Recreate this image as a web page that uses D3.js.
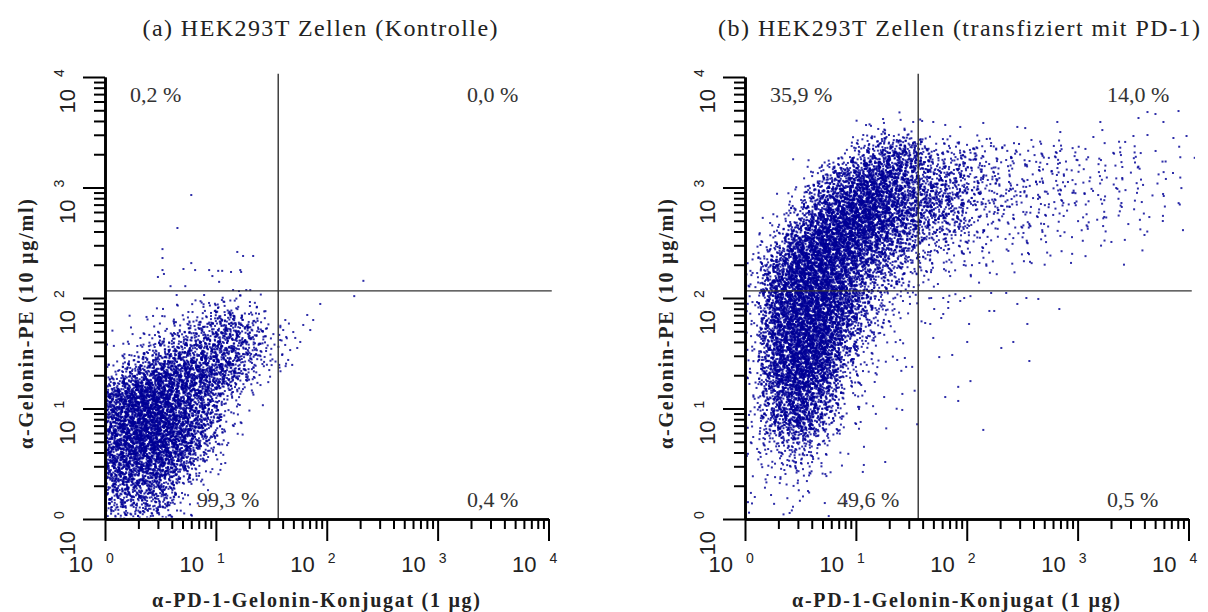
<!DOCTYPE html>
<html><head><meta charset="utf-8">
<script src="https://cdn.jsdelivr.net/npm/d3@7"></script>
<style>html,body{margin:0;padding:0;background:#fff;} svg{display:block;}</style>
</head><body>
<svg id="chart" width="1208" height="612"></svg>
<script>
// ================= DATA =================
const panelTitles = ["(a) HEK293T Zellen  (Kontrolle)", "(b) HEK293T Zellen  (transfiziert mit PD-1)"];
const xAxisTitle = "α-PD-1-Gelonin-Konjugat  (1 µg)";
const yAxisTitle = "α-Gelonin-PE  (10 µg/ml)";
const decadeExponents = [0, 1, 2, 3, 4];
const gateX = 36.5;          // vertical quadrant gate (x value)
const gateY = 116;           // horizontal quadrant gate (y value)
const gateEnd = 10700;       // gate lines run slightly past 10^4
// quadrant percentages: upper-left, upper-right, lower-left, lower-right
const quadrantPercentA = ["0,2 %", "0,0 %", "99,3 %", "0,4 %"];
const quadrantPercentB = ["35,9 %", "14,0 %", "49,6 %", "0,5 %"];

// event density: 20x20 cells of 0.2 decade each,
// rows from top (10^3.8..10^4) to bottom (10^0..10^0.2), columns 10^0 .. 10^4
const densityA = [
  "00000000000000000000",
  "00000000000000000000",
  "00000000000000000000",
  "00000000000000000000",
  "00000000000000000000",
  "00000000000000000000",
  "00000000000000000000",
  "00000000000000000000",
  "00000000000000000000",
  "00000000000000000000",
  "01234541000000000000",
  "12456764000000000000",
  "34677764000000000000",
  "57888752000000000000",
  "89987520000000000000",
  "89987410000000000000",
  "89986300000000000000",
  "88874100000000000000",
  "77742000000000000000",
  "66631000000000000000"
];
const densityB = [
  "00000000000000000000",
  "00000000000000000000",
  "00000343000000000000",
  "00003677555444333322",
  "00257887665444433332",
  "01478987765544433322",
  "03689987664443332221",
  "25899876544333222210",
  "47998765433222111000",
  "48998654211000000000",
  "48998642000000000000",
  "48997531000000000000",
  "48996421000000000000",
  "48985321000000000000",
  "47874211000000000000",
  "47863210000000000000",
  "45642100000000000000",
  "34532100000000000000",
  "23321000000000000000",
  "22210000000000000000"
];
// events per cell for each density level 0..9
const dotsPerLevel = [0, 1, 3, 8, 16, 35, 75, 140, 230, 340];

// isolated events: [x, y]
const sparseEventsA = [
  [6.0,855],[4.5,430],[3.3,277],[3.3,230],[3.3,179],[3.4,165],[3.0,155],[6.0,207],[5.1,183],
  [6.5,179],[3.9,128],[8.7,179],[10.5,176],[15.6,261],[17.6,240],[21.7,240],[16.6,179],[16.9,172],
  [10.7,140],[9.3,158],[11.4,176],[14.3,118],[5.3,128],[18.8,118],[13.7,172],
  [38.0,41.7],[42.2,37.6],[46.8,33.8],[52.0,43.5],[57.7,40.0],[39.6,30.5],[44.9,27.5],[49.9,49.2],
  [43.1,44.4],[54.2,35.3],[40.5,51.3],[71.0,51.3],[75.5,63.2],[87.4,88.3],[66.7,70.2],[61.4,57.0],
  [177,104],[214,143],[37.3,24.8],[48.8,24.8]
];
const sparseEventsB = [
  [64.0,12.7],[83.8,15.7],[83.8,11.7],[108,17.7],[141,6.4],[35.7,7.2],[74.0,30.5],[56.5,29.2],
  [101,40.0],[205,35.3],[263,40.0],[367,26.9],[352,58.2],[105,58.2],[49.9,43.5],[46.9,58.2],
  [42.2,59.4],[58.9,65.9],[61.4,71.6],[68.1,81.2],[50.9,79.5],[160,76.3],[177,76.3],[684,79.5],
  [286,88.3],[68.1,92.0],[87.4,94.0],[94.9,100],[108,104],[166,111],[227,111],[345,100],[442,98],
  [47.8,100],[61.4,100],
  [18.4,3.28],[26.2,9.7],[14.3,10.5],[18.0,12.7],[32.2,23.8],[28.4,23.8],[23.6,27.5],[25.1,41.7],
  [8128,4920],[5035,4624],[4266,4819],[3540,4254],[17.6,4169],[32.9,3917],[39.6,4000],[49.9,3917],
  [64.0,3681],[87.4,3532],[141,3837],[286,3532],[337,3451],[656,3917],[1603,3917],[5943,3917],
  [7311,2805],[9600,2924],[698,3177],[1671,3311],[1387,2864],[3187,2924],[4266,2985]
];

// ================= DRAWING =================
const svg = d3.select("#chart");
const serif = "'Liberation Serif','Times New Roman',serif";
const sans = "'Liberation Sans',Arial,sans-serif";

// fixed low-discrepancy layout used to place each cell's event count around the cell
function vdc(index, base) { let f = 1, r = 0, i = index; while (i > 0) { f /= base; r += f * (i % base); i = Math.floor(i / base); } return r; }

function cellEvents(grid, seed) {
  const out = [];
  const nRows = grid.length;
  grid.forEach((row, r) => {
    const j = nRows - 1 - r;
    row.split("").forEach((ch, i) => {
      const n = dotsPerLevel[+ch];
      const start = ((i * 31 + j * 17 + seed) * 53) % 4000;
      for (let k = 0; k < n; k++) {
        const idx = start + k + 1;
        // tent-shaped spread (one cell either side) so neighbouring cells blend smoothly
        const du = vdc(idx, 2) + vdc(idx, 5) - 1;
        const dv = vdc(idx, 3) + vdc(idx, 7) - 1;
        const u = (i + 0.5 + du) * 0.2;
        const v = (j + 0.5 + dv) * 0.2;
        out.push([Math.pow(10, u), Math.pow(10, v)]);
      }
    });
  });
  return out;
}

const panels = [
  { off: 0, title: panelTitles[0], titleW: 355, titleCx: 320, grid: densityA, sparse: sparseEventsA, pct: quadrantPercentA, seed: 3 },
  { off: 640, title: panelTitles[1], titleW: 482, titleCx: 319, grid: densityB, sparse: sparseEventsB, pct: quadrantPercentB, seed: 11 }
];

const minors = [];
for (let e = 0; e < 4; e++) for (let m = 2; m <= 9; m++) minors.push(m * Math.pow(10, e));
const majors = decadeExponents.map(e => Math.pow(10, e));

panels.forEach((p, pi) => {
  const g = svg.append("g").attr("transform", `translate(${p.off},0)`);
  const x = d3.scaleLog().domain([1, 1e4]).range([105, 548.5]);
  const y = d3.scaleLog().domain([1, 1e4]).range([519, 77]);

  // clip for events
  const clipId = "clip" + pi;
  g.append("clipPath").attr("id", clipId).append("rect")
    .attr("x", x(1) + 1.5).attr("y", y(1e4) - 6).attr("width", x(1e4) - x(1) + 5).attr("height", y(1) - y(1e4) + 4.5);

  const events = cellEvents(p.grid, p.seed).concat(p.sparse);
  g.append("g").attr("clip-path", `url(#${clipId})`)
    .selectAll("rect").data(events).join("rect")
    .attr("x", d => x(d[0]) - 1).attr("y", d => y(d[1]) - 1)
    .attr("width", 2).attr("height", 2)
    .attr("fill", "#000096").attr("fill-opacity", 0.82);

  // quadrant gates
  g.append("line").attr("x1", x(gateX)).attr("x2", x(gateX)).attr("y1", y(gateEnd)).attr("y2", y(1))
    .attr("stroke", "#333").attr("stroke-width", 1.4);
  g.append("line").attr("x1", x(1)).attr("x2", x(gateEnd)).attr("y1", y(gateY)).attr("y2", y(gateY))
    .attr("stroke", "#333").attr("stroke-width", 1.4);

  // axes
  const styleAxis = (sel, domainW) => {
    sel.selectAll("text").remove();
    sel.select(".domain").attr("stroke", "#000").attr("stroke-width", domainW);
    sel.selectAll(".tick line").attr("stroke", "#000").attr("stroke-width", 2);
  };
  g.append("g").attr("transform", `translate(0,${y(1)})`)
    .call(d3.axisBottom(x).tickValues(minors).tickSize(10).tickSizeOuter(0).tickFormat(""))
    .call(s => styleAxis(s, 2.6));
  g.append("g").attr("transform", `translate(0,${y(1)})`)
    .call(d3.axisBottom(x).tickValues(majors).tickSize(22).tickSizeOuter(0).tickFormat(""))
    .call(s => styleAxis(s, 2.6));
  g.append("g").attr("transform", `translate(${x(1)},0)`)
    .call(d3.axisLeft(y).tickValues(minors).tickSize(11).tickSizeOuter(0).tickFormat(""))
    .call(s => styleAxis(s, 2.6));
  g.append("g").attr("transform", `translate(${x(1)},0)`)
    .call(d3.axisLeft(y).tickValues(majors).tickSize(22).tickSizeOuter(0).tickFormat(""))
    .call(s => styleAxis(s, 2.6));

  // x tick labels  "10" + raised exponent
  decadeExponents.forEach(e => {
    const tx = x(Math.pow(10, e));
    g.append("text").attr("x", tx - 12).attr("y", y(1) + 53).attr("text-anchor", "end")
      .attr("font-family", sans).attr("font-size", 22).attr("fill", "#222").text("10");
    g.append("text").attr("x", tx + 1).attr("y", y(1) + 44)
      .attr("font-family", sans).attr("font-size", 14).attr("fill", "#222").text(e);
  });
  // y tick labels (rotated)
  decadeExponents.forEach(e => {
    const lg = g.append("g").attr("transform", `translate(${x(1)},${y(Math.pow(10, e))}) rotate(-90)`);
    lg.append("text").attr("x", -12).attr("y", -30).attr("text-anchor", "end")
      .attr("font-family", sans).attr("font-size", 22).attr("fill", "#222").text("10");
    lg.append("text").attr("x", 0).attr("y", -41)
      .attr("font-family", sans).attr("font-size", 14).attr("fill", "#222").text(e);
  });

  // axis titles
  g.append("text").attr("x", 316).attr("y", 607).attr("text-anchor", "middle")
    .attr("font-family", serif).attr("font-weight", "bold").attr("font-size", 20).attr("fill", "#222")
    .attr("textLength", 328).attr("lengthAdjust", "spacing").text(xAxisTitle);
  g.append("text").attr("transform", "translate(33,324) rotate(-90)").attr("text-anchor", "middle")
    .attr("font-family", serif).attr("font-weight", "bold").attr("font-size", 20).attr("fill", "#222")
    .attr("textLength", 250).attr("lengthAdjust", "spacing").text(yAxisTitle);

  // panel title
  g.append("text").attr("x", p.titleCx).attr("y", 36).attr("text-anchor", "middle")
    .attr("font-family", serif).attr("font-size", 24).attr("fill", "#222")
    .attr("textLength", p.titleW).attr("lengthAdjust", "spacing").text(p.title);

  // quadrant percentages
  const pos = [[130, 102], [467, 102], [197, 507], [467, 507]];
  p.pct.forEach((t, k) => {
    g.append("text").attr("x", pos[k][0]).attr("y", pos[k][1])
      .attr("font-family", serif).attr("font-size", 22).attr("fill", "#333").text(t);
  });
});
</script>
</body></html>
